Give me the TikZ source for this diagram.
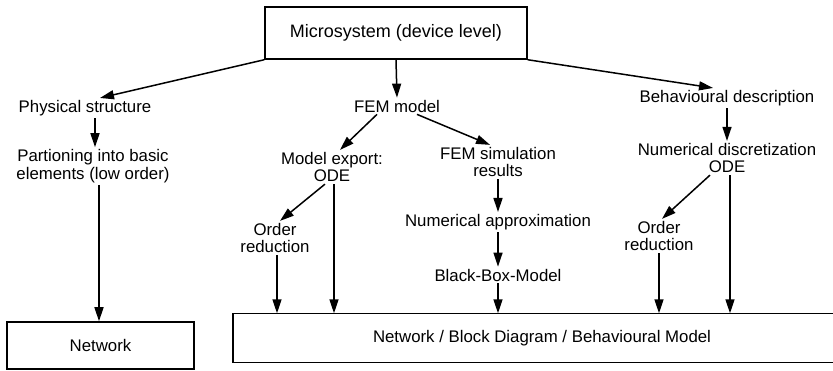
\documentclass[tikz,border=0pt]{standalone}
\usepackage{fontspec}
\setmainfont{Liberation Sans}
\usepackage{tikz}
\usetikzlibrary{arrows.meta,positioning,calc}

\begin{document}
\begin{tikzpicture}[
  x=1pt, y=-1pt,
  font=\fontsize{16.8}{17.5}\selectfont,
  lbl/.style={align=center, inner sep=2pt},
  box/.style={draw, line width=1.5pt, align=center, inner sep=2pt},
  arr/.style={-{Triangle[length=14pt,width=9pt]}, line width=1.5pt}
]
\useasboundingbox (0,0) rectangle (833,371);
\node[box, minimum width=262pt, minimum height=52pt, font=\fontsize{18}{19}\selectfont] (micro) at (396,33) {Microsystem (device level)};
\node[lbl] (phys)   at (85,108)  {Physical structure};
\node[lbl] (part)   at (93,166)  {Partioning into basic\\elements (low order)};
\node[lbl] (fem)    at (397,106) {FEM model};
\node[lbl] (export) at (332,167) {Model export:\\ODE};
\node[lbl] (sim)    at (498,162) {FEM simulation\\results};
\node[lbl] (ordA)   at (275,238) {Order\\reduction};
\node[lbl] (approx) at (498,222) {Numerical approximation};
\node[lbl] (bbm)    at (498,275) {Black-Box-Model};
\node[lbl] (behav)  at (727,98)  {Behavioural description};
\node[lbl] (disc)   at (727,158) {Numerical discretization\\ODE};
\node[lbl] (ordB)   at (659,236) {Order\\reduction};
\node[box, minimum width=187pt, minimum height=47pt] (netA) at (100.5,345.5) {Network};
\node[lbl, minimum width=618pt, minimum height=49pt] (netB) at (542,338) {Network / Block Diagram / Behavioural Model};
\draw[line width=1.5pt] (netB.north east) -- (netB.north west) -- (netB.south west) -- (netB.south east);
\draw[arr] (micro.south west) -- ([xshift=15pt]phys.north);
\draw[arr] (micro.south) -- (fem.north);
\draw[arr] (micro.south east) -- ([xshift=-14pt]behav.north);
\draw[arr] ([xshift=10pt]phys.south) -- ([xshift=10pt]phys.south |- part.north);
\draw[arr] ([xshift=6pt]part.south) -- ([xshift=6pt]part.south |- netA.north);
\draw[arr] ([xshift=-20pt]fem.south) -- ([xshift=8pt]export.north);
\draw[arr] ([xshift=20pt]fem.south) -- ([xshift=-8pt]sim.north);
\draw[arr] ([xshift=-7pt]export.south) -- ([xshift=5pt]ordA.north);
\draw[arr] ([xshift=2pt]export.south) -- ([xshift=2pt]export.south |- netB.north);
\draw[arr] ([xshift=2pt]ordA.south) -- ([xshift=2pt]ordA.south |- netB.north);
\draw[arr] (sim.south) -- (approx.north);
\draw[arr] (approx.south) -- (bbm.north);
\draw[arr] (bbm.south) -- (bbm.south |- netB.north);
\draw[arr] (behav.south) -- (disc.north);
\draw[arr] ([xshift=-17pt]disc.south) -- ([xshift=3pt]ordB.north);
\draw[arr] ([xshift=3pt]disc.south) -- ([xshift=3pt]disc.south |- netB.north);
\draw[arr] (ordB.south) -- (ordB.south |- netB.north);
\end{tikzpicture}
\end{document}
